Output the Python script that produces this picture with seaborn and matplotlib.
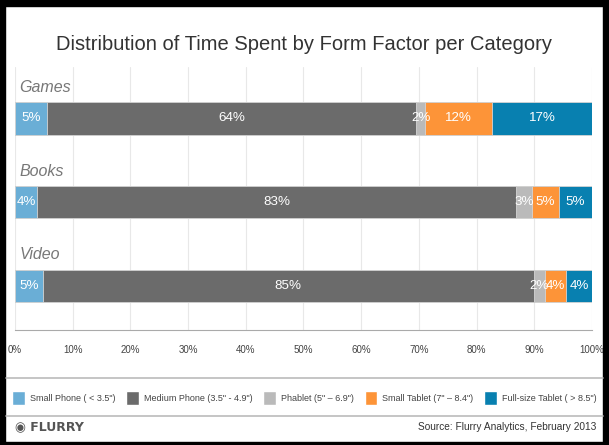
import numpy as np
import matplotlib
matplotlib.use("Agg")
import matplotlib.pyplot as plt
import matplotlib.patches as mpatches
import seaborn as sns

sns.set_style("white")
plt.rcParams['font.family'] = ['Liberation Sans', 'DejaVu Sans']

# data
categories = ["Games", "Books", "Video"]
segments = ["Small Phone ( < 3.5\")", "Medium Phone (3.5\" - 4.9\")", "Phablet (5\" \u2013 6.9\")",
            "Small Tablet (7\" \u2013 8.4\")", "Full-size Tablet ( > 8.5\")"]
small_phone = [5.5, 3.9, 4.8]
medium_phone = [64.0, 82.9, 85.1]
phablet = [1.6, 2.8, 1.9]
small_tablet = [11.6, 4.7, 3.7]
full_tablet = [17.3, 5.7, 4.5]
labels = [["5%", "4%", "5%"], ["64%", "83%", "85%"], ["2%", "3%", "2%"],
          ["12%", "5%", "4%"], ["17%", "5%", "4%"]]
colors = ["#6aaed6", "#6b6b6b", "#bababa", "#fd9438", "#0880b0"]

vals = np.array([small_phone, medium_phone, phablet, small_tablet, full_tablet])
cum = np.cumsum(vals, axis=0)

fig = plt.figure(figsize=(6.09, 4.45), dpi=100)
ax = fig.add_axes([0.0246, 0.2584, 0.9475, 0.5906])

# stacked bars: draw cumulative totals from the longest down
for i in reversed(range(len(segments))):
    sns.barplot(x=cum[i], y=categories, color=colors[i], orient="h", width=0.39,
                edgecolor="#d4d4d4", linewidth=0.6, ax=ax, saturation=1)

for i in range(len(segments)):
    for j in range(len(categories)):
        ax.text(cum[i][j] - vals[i][j] / 2, j, labels[i][j], ha="center", va="center",
                color="white", fontsize=9.6)

for j, c in enumerate(categories):
    ax.text(0.8, j - 0.37, c, ha="left", va="center", color="#777777",
            fontsize=11.5, style="italic")

ax.set_xlim(0, 100)
ax.set_ylim(2.524, -0.607)
ax.set_xticks(np.arange(0, 101, 10))
ax.set_xticklabels([f"{t}%" for t in range(0, 101, 10)])
ax.xaxis.grid(True, color="#e8e8e8", linewidth=0.8)
ax.set_axisbelow(True)
ax.set_yticks([])
ax.set_xlabel("")
ax.set_ylabel("")
for s in ["top", "left", "right"]:
    ax.spines[s].set_visible(False)
ax.spines["bottom"].set_color("#aaaaaa")
ax.tick_params(axis="x", colors="#444444", labelsize=7, length=3, pad=8, width=0.6)
ax.tick_params(axis="x", color="#aaaaaa")

fig.text(0.5, 0.90, "Distribution of Time Spent by Form Factor per Category",
         ha="center", va="center", fontsize=14.5, color="#333333")

# separator lines
for yy in [1 - 378 / 445, 1 - 416 / 445]:
    fig.add_artist(plt.Line2D([0.01, 0.99], [yy, yy], color="#bbbbbb", linewidth=1.2))

handles = [mpatches.Patch(facecolor=colors[i], label=segments[i]) for i in range(len(segments))]
fig.legend(handles=handles, loc="center", bbox_to_anchor=(0.5, 1 - 398 / 445), ncol=5,
           frameon=False, fontsize=6.5, handlelength=1.35, handleheight=2.0,
           handletextpad=0.6, columnspacing=1.2, labelcolor="#444444")

fig.text(0.025, 1 - 427 / 445, "\u25c9 FLURRY", ha="left", va="center", fontsize=9,
         fontweight="bold", color="#555555", family=["DejaVu Sans"])
fig.text(0.98, 1 - 427 / 445, "Source: Flurry Analytics, February 2013", ha="right",
         va="center", fontsize=7.3, color="#333333")

# black frame of the screenshot
fig.add_artist(mpatches.Rectangle((0, 1 - 6 / 445), 1, 6 / 445, transform=fig.transFigure,
                                  color="black"))
fig.add_artist(mpatches.Rectangle((0, 0), 5 / 609, 1, transform=fig.transFigure, color="black"))
fig.add_artist(mpatches.Rectangle((1 - 6 / 609, 0), 6 / 609, 1, transform=fig.transFigure,
                                  color="black"))
fig.add_artist(mpatches.Rectangle((0, 0), 1, 3 / 445, transform=fig.transFigure, color="black"))

fig.savefig("out.png", dpi=100)
